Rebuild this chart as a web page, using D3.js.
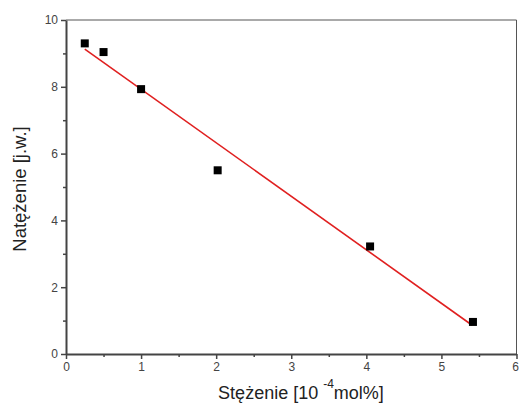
<!DOCTYPE html>
<html>
<head>
<meta charset="utf-8">
<script src="https://cdn.jsdelivr.net/npm/d3@7"></script>
<style>
	body { margin: 0; background: #fff; }
	svg { display: block; font-family: "Liberation Sans", Arial, sans-serif; }
	.tick text { fill: #444; font-size: 12px; }
	.tick line, .domain { stroke: #444; }
</style>
</head>
<body>
<div id="graph"></div>
<script>
// Measured points (concentration vs intensity):
let conc = [0.25, 0.5, 1.0, 2.02, 4.05, 5.42];
let intensity = [9.3, 9.04, 7.93, 5.5, 3.22, 0.96];
// Fitted line endpoints:
let fitX = [0.25, 5.41];
let fitY = [9.13, 0.86];
let xTicks = [0, 1, 2, 3, 4, 5, 6];
let yTicks = [0, 2, 4, 6, 8, 10];

let width = 519;
let height = 405;
let padding = { top: 20, right: 2, bottom: 51, left: 66 };

let svg = d3.select("#graph")
	.append("svg")
		.attr("width", width)
		.attr("height", height)
	;

let xScale = d3.scaleLinear()
	.domain([0, 6])
	.range([padding.left, width - padding.right - 0.5])
	;
let yScale = d3.scaleLinear()
	.domain([0, 10])
	.range([height - padding.bottom, padding.top])
	;

// Frame (top + right thin lines):
svg.append("path")
	.attr("d", `M${xScale(0)},${yScale(10)}H${xScale(6)}V${yScale(0)}`)
	.attr("fill", "none")
	.attr("stroke", "#555")
	.attr("stroke-width", 1)
	;

// Minor ticks:
let xAxisMinor = d3.axisBottom(xScale)
	.tickValues(d3.range(0.5, 6, 1))
	.tickSize(3)
	.tickFormat("")
	;
svg.append("g")
	.attr("transform", `translate(0, ${yScale(0)})`)
	.call(xAxisMinor)
	.call(g => g.select(".domain").remove())
	.selectAll("line").attr("stroke-width", 1.5)
	;
let yAxisMinor = d3.axisLeft(yScale)
	.tickValues(d3.range(1, 10, 2))
	.tickSize(3)
	.tickFormat("")
	;
svg.append("g")
	.attr("transform", `translate(${xScale(0)}, 0)`)
	.call(yAxisMinor)
	.call(g => g.select(".domain").remove())
	.selectAll("line").attr("stroke-width", 1.5)
	;

// Major axes:
let xAxis = d3.axisBottom(xScale)
	.tickValues(xTicks)
	.tickSize(5)
	.tickSizeOuter(0)
	.tickPadding(3)
	.tickFormat(d3.format("d"))
	;
svg.append("g")
	.attr("transform", `translate(0, ${yScale(0)})`)
	.call(xAxis)
	.call(g => g.select(".domain").attr("stroke-width", 2))
	.call(g => g.selectAll("line").attr("stroke-width", 1.5))
	// last label sits right at the page edge: keep it inside
	.call(g => g.selectAll(".tick text")
		.filter(d => d === 6)
		.attr("text-anchor", "end")
		.attr("dx", "2"))
	;
let yAxis = d3.axisLeft(yScale)
	.tickValues(yTicks)
	.tickSize(5)
	.tickSizeOuter(0)
	.tickPadding(3)
	.tickFormat(d3.format("d"))
	;
svg.append("g")
	.attr("transform", `translate(${xScale(0)}, 0)`)
	.call(yAxis)
	.call(g => g.select(".domain").attr("stroke-width", 2))
	.selectAll("line").attr("stroke-width", 1.5)
	;

// Fit line:
svg.append("line")
	.attr("x1", xScale(fitX[0]))
	.attr("y1", yScale(fitY[0]))
	.attr("x2", xScale(fitX[1]))
	.attr("y2", yScale(fitY[1]))
	.attr("stroke", "#e02020")
	.attr("stroke-width", 1.6)
	;

// Points:
let sq = 8;
svg.selectAll("rect.pt")
	.data(conc)
	.enter()
		.append("rect")
			.attr("class", "pt")
			.attr("x", (d) => xScale(d) - sq / 2)
			.attr("y", (d, i) => yScale(intensity[i]) - sq / 2)
			.attr("width", sq)
			.attr("height", sq)
			.attr("fill", "#000")
	;

// Axis titles:
let xt = svg.append("text")
	.attr("x", 301)
	.attr("y", 399)
	.attr("text-anchor", "middle")
	.style("font-size", "18px")
	.attr("fill", "#222")
	;
xt.append("tspan").text("Stężenie [10 ");
xt.append("tspan").text("-4").attr("dy", "-11").style("font-size", "12px");
xt.append("tspan").text("mol%]").attr("dy", "11");

svg.append("text")
	.attr("transform", `translate(26, ${(yScale(0) + yScale(10)) / 2 + 2}) rotate(-90)`)
	.attr("text-anchor", "middle")
	.style("font-size", "18.5px")
	.attr("fill", "#222")
	.text("Natężenie [j.w.]")
	;
</script>
</body>
</html>
